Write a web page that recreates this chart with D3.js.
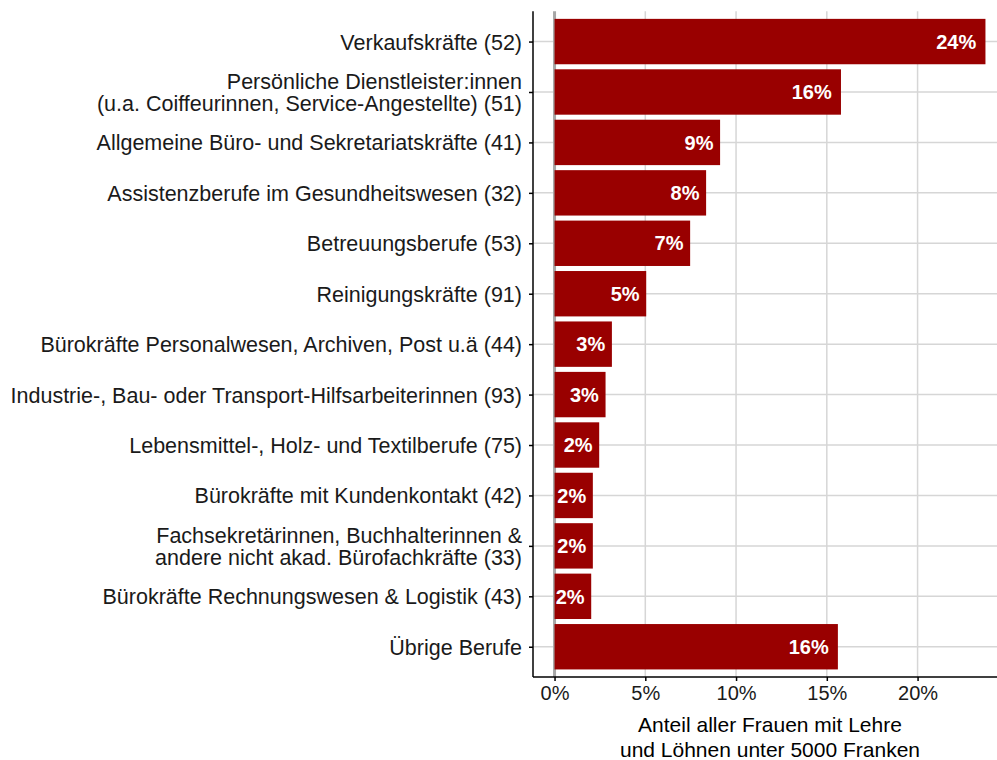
<!DOCTYPE html>
<html>
<head>
<meta charset="utf-8">
<script src="https://cdn.jsdelivr.net/npm/d3@7"></script>
<style>
  body { margin: 0; background: #fff; }
  svg { font-family: "Liberation Sans", Arial, sans-serif; }
</style>
</head>
<body>
<svg id="chart" width="997" height="760"></svg>
<script>
// categories, top to bottom (\n = line break in the label)
const categories = [
  "Verkaufskräfte (52)",
  "Persönliche Dienstleister:innen\n(u.a. Coiffeurinnen, Service-Angestellte) (51)",
  "Allgemeine Büro- und Sekretariatskräfte (41)",
  "Assistenzberufe im Gesundheitswesen (32)",
  "Betreuungsberufe (53)",
  "Reinigungskräfte (91)",
  "Bürokräfte Personalwesen, Archiven, Post u.ä (44)",
  "Industrie-, Bau- oder Transport-Hilfsarbeiterinnen (93)",
  "Lebensmittel-, Holz- und Textilberufe (75)",
  "Bürokräfte mit Kundenkontakt (42)",
  "Fachsekretärinnen, Buchhalterinnen &\nandere nicht akad. Bürofachkräfte (33)",
  "Bürokräfte Rechnungswesen & Logistik (43)",
  "Übrige Berufe"
];
// share in percent
const shares = [23.74, 15.78, 9.12, 8.35, 7.47, 5.05, 3.16, 2.81, 2.46, 2.11, 2.11, 2.02, 15.61];
const xTicks = [0, 5, 10, 15, 20];
const xTitle = ["Anteil aller Frauen mit Lehre", "und Löhnen unter 5000 Franken"];

const data = categories.map((c, i) => ({ cat: c, value: shares[i] }));

const svg = d3.select('#chart');
// panel runs a bit past the right edge of the picture
const panel = { left: 533, right: 1007, top: 11.3, bottom: 677 };

const maxV = d3.max(shares);
const pad = maxV * 0.05;
const x = d3.scaleLinear().domain([-pad, maxV + pad]).range([panel.left, panel.right]);
const y = d3.scalePoint().domain(categories).range([panel.top, panel.bottom]).padding(0.6);
const barH = y.step() * 0.9;

// grid
let grid = svg.append('g');
grid.selectAll('line.h').data(categories).join('line')
  .attr('x1', panel.left).attr('x2', panel.right)
  .attr('y1', d => y(d)).attr('y2', d => y(d))
  .attr('stroke', '#d6d6d6').attr('stroke-width', 1.5);
grid.selectAll('line.v').data(xTicks.filter(t => t !== 0)).join('line')
  .attr('x1', d => x(d)).attr('x2', d => x(d))
  .attr('y1', panel.top).attr('y2', panel.bottom)
  .attr('stroke', '#d6d6d6').attr('stroke-width', 1.5);
grid.append('line')
  .attr('x1', x(0)).attr('x2', x(0))
  .attr('y1', panel.top).attr('y2', panel.bottom)
  .attr('stroke', '#a6a6a6').attr('stroke-width', 3);

// bars
svg.append('g').selectAll('rect').data(data).join('rect')
  .attr('x', x(0))
  .attr('y', d => y(d.cat) - barH / 2)
  .attr('width', d => x(d.value) - x(0))
  .attr('height', barH)
  .attr('fill', '#990000');

// value labels
svg.append('g').selectAll('text').data(data).join('text')
  .attr('y', d => y(d.cat))
  .attr('dy', '0.36em')
  .attr('text-anchor', 'end')
  .attr('fill', '#fff')
  .attr('font-weight', 'bold')
  .attr('font-size', 20)
  .text(d => Math.round(d.value) + '%')
  .attr('x', function(d){ return x(d.value) - this.getComputedTextLength() * 0.23; });

// y axis
let yAxis = svg.append('g')
  .attr('transform', `translate(${panel.left},0)`)
  .call(d3.axisLeft(y).tickSize(4).tickPadding(6).tickFormat(''))
  .attr('font-family', null).attr('font-size', null);
yAxis.select('.domain').attr('d', `M0,${panel.top}V${panel.bottom}`).attr('stroke', '#000').attr('stroke-width', 1.5);
yAxis.selectAll('.tick line').attr('stroke', '#000').attr('stroke-width', 1.5);
yAxis.selectAll('.tick text').remove();
yAxis.selectAll('.tick').append('text')
  .attr('x', -11)
  .attr('text-anchor', 'end')
  .attr('fill', '#1a1a1a')
  .attr('font-size', 21.5)
  .each(function(d){
    let lines = d.split('\n');
    let t = d3.select(this);
    lines.forEach((l, i) => {
      t.append('tspan').attr('x', -11)
        .attr('y', (i - (lines.length - 1) / 2) * 22.5)
        .attr('dy', '0.35em')
        .text(l);
    });
  });

// x axis
let xAxis = svg.append('g')
  .attr('transform', `translate(0,${panel.bottom})`)
  .call(d3.axisBottom(x).tickValues(xTicks).tickSize(4).tickPadding(5).tickFormat(d => d + '%'))
  .attr('font-family', null).attr('font-size', null);
xAxis.select('.domain').attr('d', `M${panel.left},0H${panel.right}`).attr('stroke', '#000').attr('stroke-width', 1.5);
xAxis.selectAll('.tick line').attr('stroke', '#000').attr('stroke-width', 1.5);
xAxis.selectAll('.tick text').attr('font-size', 20).attr('fill', '#1a1a1a');

// axis title
svg.append('text')
  .attr('x', 770)
  .attr('text-anchor', 'middle')
  .attr('font-size', 21)
  .attr('fill', '#000')
  .selectAll('tspan').data(xTitle).join('tspan')
  .attr('x', 770)
  .attr('y', (d, i) => 732 + i * 25)
  .text(d => d);
</script>
</body>
</html>
